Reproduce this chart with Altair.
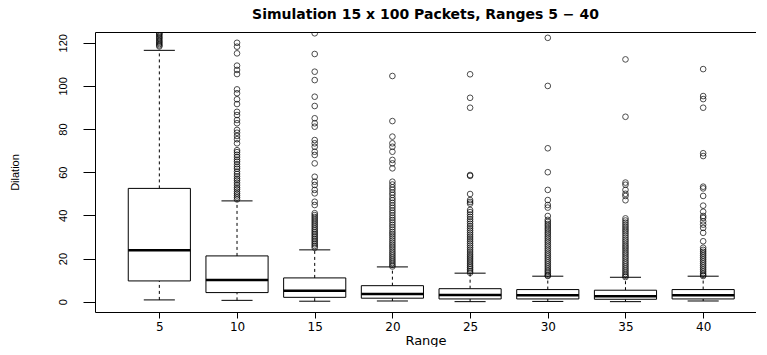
import altair as alt
import pandas as pd

# ---- data ----
ranges = [5, 10, 15, 20, 25, 30, 35, 40]
whisker_low = [0.8, 0.6, 0.2, 0.3, 0.0, 0.1, 0.0, 0.3]
q1 = [9.6, 4.2, 2.0, 1.6, 1.25, 1.25, 1.1, 1.25]
median = [23.8, 10.0, 5.1, 3.6, 3.1, 3.0, 2.5, 3.0]
q3 = [52.5, 21.2, 11.0, 7.4, 6.0, 5.6, 5.3, 5.6]
whisker_high = [116.5, 46.7, 24.0, 16.1, 13.2, 11.8, 11.3, 11.8]

out_5 = [118.3, 118.8, 119.4, 120.0, 120.6, 121.2, 121.9, 122.5, 123.1, 123.8,
         124.3, 124.8]
out_10 = [120.0, 118.2, 115.1, 109.4, 107.4, 105.5, 98.4, 96.6, 93.8, 91.6, 88.0,
          86.5, 84.2, 82.7, 79.6, 78.3, 76.8, 75.3, 73.4, 70.2, 69.3, 68.1, 67.0,
          65.8, 64.9, 63.7, 62.5, 61.6, 60.3, 59.2, 58.1, 57.0, 56.2, 55.1, 54.0,
          52.9, 52.1, 51.0, 50.1, 49.2, 48.3, 47.4]
out_15 = [124.4, 114.8, 106.6, 102.7, 95.0, 90.7, 85.0, 82.7, 81.1, 74.9, 73.4,
          71.8, 69.5, 68.0, 64.1, 57.9, 55.6, 54.1, 51.8, 50.2, 46.3, 44.8, 41.0,
          40.1, 39.2, 38.3, 37.4, 36.5, 35.6, 34.7, 33.8, 33.0, 32.2, 31.4, 30.6,
          29.8, 29.0, 28.2, 27.4, 26.6, 25.8, 25.0]
out_20 = [104.6, 83.7, 76.5, 73.4, 71.8, 69.5, 65.7, 64.1, 61.8, 55.6, 54.3, 53.0,
          51.9, 50.6, 49.5, 48.1, 47.0, 45.8, 44.6, 43.5, 42.3, 41.2, 40.0, 38.9,
          37.8, 36.7, 35.6, 34.5, 33.4, 32.3, 31.3, 30.3, 29.3, 28.3, 27.3, 26.3,
          25.3, 24.3, 23.3, 22.4, 21.5, 20.6, 19.7, 18.8, 17.9, 17.0, 16.3]
out_25 = [105.4, 94.5, 89.9, 58.7, 58.3, 49.9, 47.1, 46.2, 45.4, 42.5, 41.5, 40.4,
          39.3, 38.2, 37.2, 36.1, 35.0, 34.0, 33.0, 32.0, 31.0, 30.0, 29.0, 28.0,
          27.0, 26.0, 25.0, 24.0, 23.0, 22.0, 21.1, 20.2, 19.3, 18.4, 17.5, 16.6,
          15.8, 15.0, 14.2, 13.4]
out_30 = [122.3, 100.0, 71.1, 60.0, 51.8, 47.1, 44.8, 43.6, 39.7, 37.9, 37.0, 36.0,
          35.1, 34.1, 33.2, 32.2, 31.3, 30.3, 29.4, 28.4, 27.5, 26.5, 25.6, 24.6,
          23.7, 22.7, 21.8, 20.9, 20.0, 19.1, 18.2, 17.3, 16.4, 15.5, 14.6, 13.8,
          13.0, 12.2, 11.9]
out_35 = [112.3, 85.7, 55.2, 54.2, 51.8, 50.0, 49.0, 47.0, 38.6, 37.6, 36.6, 35.6,
          34.6, 33.6, 32.7, 31.7, 30.7, 29.7, 28.7, 27.8, 26.8, 25.8, 24.9, 23.9,
          22.9, 22.0, 21.0, 20.1, 19.1, 18.2, 17.3, 16.4, 15.5, 14.6, 13.7, 12.8,
          12.0, 11.4]
out_40 = [107.8, 95.3, 93.9, 89.9, 68.8, 67.5, 53.3, 52.5, 49.0, 44.5, 41.7, 39.7,
          38.8, 37.2, 35.7, 34.2, 31.9, 28.0, 25.0, 24.0, 23.1, 22.2, 21.3, 20.4,
          19.5, 18.6, 17.7, 16.8, 15.9, 15.0, 14.1, 13.2, 12.4, 11.9]
outliers = [out_5, out_10, out_15, out_20, out_25, out_30, out_35, out_40]

y_ticks = [0, 20, 40, 60, 80, 100, 120]

# ---- tables ----
stats = pd.DataFrame({
    "Range": ranges, "lo": whisker_low, "q1": q1, "med": median,
    "q3": q3, "hi": whisker_high,
})
out_rows = [{"Range": r, "Dilation": v} for r, vals in zip(ranges, outliers) for v in vals]
out_df = pd.DataFrame(out_rows)

xscale = alt.Scale(domain=[0.86, 43.4], nice=False, zero=False)
yscale = alt.Scale(domain=[-4.8, 125.0], nice=False, zero=False)
FONT = "Liberation Sans"
WIDE = "DejaVu Sans"

x_axis = alt.Axis(
    values=ranges, title="Range", grid=False, domain=False,
    tickColor="black", tickSize=6, labelFontSize=12, labelFont=WIDE,
    labelColor="black", labelPadding=3, titleFont=WIDE, titleFontSize=13,
    titleFontWeight="normal", titleColor="black",
    titleX=330.5, titleY=28, titleBaseline="middle", titleAlign="center",
)
y_axis = alt.Axis(
    values=y_ticks, title="Dilation", grid=False, domain=False,
    tickColor="black", tickSize=12, labelFontSize=11, labelFont=FONT,
    labelColor="black", labelAngle=-90, labelAlign="center",
    labelBaseline="bottom", labelPadding=15, titleFont=FONT, titleFontSize=11,
    titleFontWeight="normal", titleColor="black", titleAngle=-90,
    titleX=-80, titleY=140, titleBaseline="middle", titleAlign="center",
)

base = alt.Chart(stats).transform_calculate(
    bx1="datum.Range - 2", bx2="datum.Range + 2",
    cx1="datum.Range - 1", cx2="datum.Range + 1",
)

whisk_up = base.mark_rule(color="black", strokeWidth=1, strokeDash=[3, 3]).encode(
    x=alt.X("Range:Q", scale=xscale, axis=x_axis),
    y=alt.Y("q3:Q", scale=yscale, axis=y_axis),
    y2="hi:Q",
)
whisk_dn = base.mark_rule(color="black", strokeWidth=1, strokeDash=[3, 3]).encode(
    x=alt.X("Range:Q", scale=xscale), y=alt.Y("lo:Q", scale=yscale), y2="q1:Q",
)
cap_hi = base.mark_rule(color="black", strokeWidth=1).encode(
    x=alt.X("cx1:Q", scale=xscale), x2="cx2:Q", y=alt.Y("hi:Q", scale=yscale),
)
cap_lo = base.mark_rule(color="black", strokeWidth=1).encode(
    x=alt.X("cx1:Q", scale=xscale), x2="cx2:Q", y=alt.Y("lo:Q", scale=yscale),
)
box = base.mark_rect(fill="white", stroke="black", strokeWidth=1).encode(
    x=alt.X("bx1:Q", scale=xscale), x2="bx2:Q",
    y=alt.Y("q1:Q", scale=yscale), y2="q3:Q",
)
med = base.mark_rule(color="black", strokeWidth=2.5).encode(
    x=alt.X("bx1:Q", scale=xscale), x2="bx2:Q", y=alt.Y("med:Q", scale=yscale),
)
pts = alt.Chart(out_df).mark_point(
    shape="circle", filled=False, color="black", size=32, strokeWidth=1, clip=True,
).encode(
    x=alt.X("Range:Q", scale=xscale), y=alt.Y("Dilation:Q", scale=yscale),
)

chart = alt.layer(whisk_up, whisk_dn, cap_hi, cap_lo, box, med, pts).properties(
    width=661, height=280,
    title=alt.TitleParams(
        "Simulation 15 x 100 Packets, Ranges 5 \u2212 40",
        font=WIDE, fontSize=14, fontWeight="bold", color="black",
        anchor="middle", offset=11, baseline="alphabetic", frame="group", dy=12,
    ),
    autosize=alt.AutoSizeParams(type="none"),
    padding={"left": 87, "top": 24, "right": 0, "bottom": 35},
    background="white",
).configure_view(stroke="black", strokeWidth=1)

chart.save("out.html", embed_options={"renderer": "svg", "actions": False})
